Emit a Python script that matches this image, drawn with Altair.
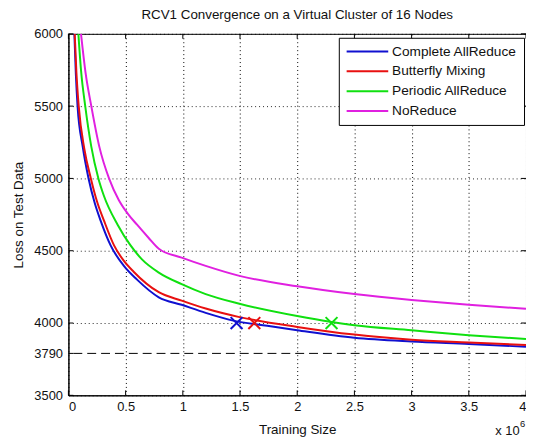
import altair as alt
import pandas as pd

title_text = "RCV1 Convergence on a Virtual Cluster of 16 Nodes"
x_title = "Training Size"
y_title = "Loss on Test Data"

series_names = ["Complete AllReduce", "Butterfly Mixing", "Periodic AllReduce", "NoReduce"]
series_colors = ["#1010d0", "#e81010", "#10e010", "#e020e0"]

# training size in units of 1e6
complete_x = [0.052, 0.065, 0.08, 0.125, 0.176, 0.23, 0.283, 0.37, 0.485, 0.6, 0.79, 0.99, 1.2, 1.45, 1.7, 2.0, 2.5, 3.0, 3.5, 4.0]
complete_y = [6000, 5720, 5500, 5220, 5000, 4830, 4705, 4535, 4395, 4300, 4178, 4126, 4070, 4015, 3985, 3950, 3898, 3872, 3855, 3836]

butterfly_x = [0.055, 0.07, 0.09, 0.14, 0.196, 0.25, 0.31, 0.40, 0.48, 0.57, 0.79, 0.99, 1.2, 1.495, 2.0, 2.5, 3.0, 3.5, 4.0]
butterfly_y = [6000, 5730, 5500, 5200, 5000, 4840, 4710, 4535, 4435, 4355, 4213, 4155, 4100, 4041, 3973, 3920, 3885, 3866, 3848]

periodic_x = [0.087, 0.11, 0.147, 0.2, 0.262, 0.31, 0.43, 0.54, 0.643, 0.79, 0.99, 1.2, 1.495, 2.0, 2.3, 2.5, 3.0, 3.5, 4.0]
periodic_y = [6000, 5750, 5500, 5220, 5000, 4880, 4680, 4540, 4440, 4349, 4269, 4200, 4133, 4048, 4007, 3985, 3950, 3916, 3889]

noreduce_x = [0.11, 0.15, 0.2, 0.27, 0.355, 0.44, 0.52, 0.6, 0.7, 0.79, 0.99, 1.2, 1.495, 2.0, 2.5, 3.0, 3.5, 4.0]
noreduce_y = [6000, 5730, 5500, 5220, 5000, 4851, 4755, 4680, 4590, 4514, 4452, 4395, 4326, 4254, 4201, 4160, 4126, 4098]

marker_series = ["Complete AllReduce", "Butterfly Mixing", "Periodic AllReduce"]
marker_x = [1.47, 1.625, 2.3]
marker_y = [4000, 4000, 4000]

reference_loss = [3790]
x_ticks = [0, 0.5, 1, 1.5, 2, 2.5, 3, 3.5, 4]
y_ticks = [3500, 3790, 4000, 4500, 5000, 5500, 6000]
exponent_base = ["x 10"]
exponent_power = ["6"]

rows = []
for name, xs, ys in zip(series_names,
                        [complete_x, butterfly_x, periodic_x, noreduce_x],
                        [complete_y, butterfly_y, periodic_y, noreduce_y]):
    for xv, yv in zip(xs, ys):
        rows.append({"series": name, "x": xv, "loss": yv})
df = pd.DataFrame(rows)

color_of = dict(zip(series_names, series_colors))
mdf = pd.DataFrame({"series": marker_series, "x": marker_x, "loss": marker_y,
                    "col": [color_of[s] for s in marker_series]})

W, H = 462, 365
FONT = "Liberation Sans"
TXT = "#111"

x_scale = alt.Scale(domain=[0, 4], nice=False, zero=False)
y_scale = alt.Scale(domain=[3500, 6000], nice=False, zero=False)

x_axis = alt.Axis(values=x_ticks, format="~g", grid=True, labelPadding=5, titlePadding=10)
y_axis = alt.Axis(values=y_ticks, format="d", grid=True, labelPadding=6, titlePadding=8,
                  gridOpacity={"condition": {"test": "datum.value === 3790", "value": 0}, "value": 0.85})


def X(field="x"):
    return alt.X(f"{field}:Q", scale=x_scale, axis=x_axis, title=x_title)


def Y(field="loss"):
    return alt.Y(f"{field}:Q", scale=y_scale, axis=y_axis, title=y_title)


lines = alt.Chart(df).mark_line(clip=True, strokeWidth=2, interpolate="monotone").encode(
    x=X(), y=Y(),
    color=alt.Color("series:N", scale=alt.Scale(domain=series_names, range=series_colors),
                    legend=alt.Legend(orient="none", legendX=273, legendY=4, title=None,
                                      symbolType="M-4.2,0H4.2", symbolSize=100, symbolStrokeWidth=2,
                                      symbolOffset=15, labelOffset=18, rowPadding=5,
                                      labelFont=FONT, labelFontSize=13.8, labelColor=TXT,
                                      padding=7, strokeColor="black", fillColor="white",
                                      labelLimit=300)),
    order=alt.Order("x:Q"),
)

ref_df = pd.DataFrame({"loss": reference_loss})
ref_rule = alt.Chart(ref_df).mark_rule(color="black", strokeDash=[9, 5], strokeWidth=1).encode(y=Y())

markers = alt.Chart(mdf).mark_point(shape="M-1,-1L1,1M-1,1L1,-1", size=144, strokeWidth=2,
                                    filled=False, opacity=1).encode(
    x=X(), y=Y(), color=alt.Color("col:N", scale=None))

xt = pd.DataFrame({"x": x_ticks})
yt = pd.DataFrame({"loss": y_ticks})
tick_x_bottom = alt.Chart(xt).mark_rule(color="black").encode(x=X(), y=alt.value(H), y2=alt.value(H - 5))
tick_x_top = alt.Chart(xt).mark_rule(color="black").encode(x=X(), y=alt.value(0), y2=alt.value(5))
tick_y_left = alt.Chart(yt).mark_rule(color="black").encode(y=Y(), x=alt.value(0), x2=alt.value(5))
tick_y_right = alt.Chart(yt).mark_rule(color="black").encode(y=Y(), x=alt.value(W - 5), x2=alt.value(W))

exp_base = alt.Chart(pd.DataFrame({"t": exponent_base})).mark_text(
    align="left", baseline="alphabetic", font=FONT, fontSize=13, color=TXT).encode(
    text="t:N", x=alt.value(431), y=alt.value(405))
exp_pow = alt.Chart(pd.DataFrame({"t": exponent_power})).mark_text(
    align="left", baseline="alphabetic", font=FONT, fontSize=9.5, color=TXT).encode(
    text="t:N", x=alt.value(456), y=alt.value(397))

chart = alt.layer(ref_rule, lines, markers, tick_x_bottom, tick_x_top, tick_y_left, tick_y_right,
                  exp_base, exp_pow).properties(
    width=W, height=H,
    title=alt.TitleParams(title_text, font=FONT, fontSize=13.5, fontWeight="normal", color=TXT,
                          anchor="middle", baseline="alphabetic", offset=6, dy=11),
    autosize=alt.AutoSizeParams(type="none"),
    padding={"left": 61, "top": 24, "right": 0, "bottom": 40},
).configure_view(stroke="black", strokeWidth=1).configure_axis(
    domainColor="black", ticks=False, tickSize=0, gridColor="black", gridDash=[1, 3], gridWidth=1,
    labelFont=FONT, labelFontSize=13, labelColor=TXT, titleFont=FONT, titleFontSize=13.5,
    titleFontWeight="normal", titleColor=TXT,
)

chart.save("out.html", embed_options={"renderer": "svg", "actions": False})
